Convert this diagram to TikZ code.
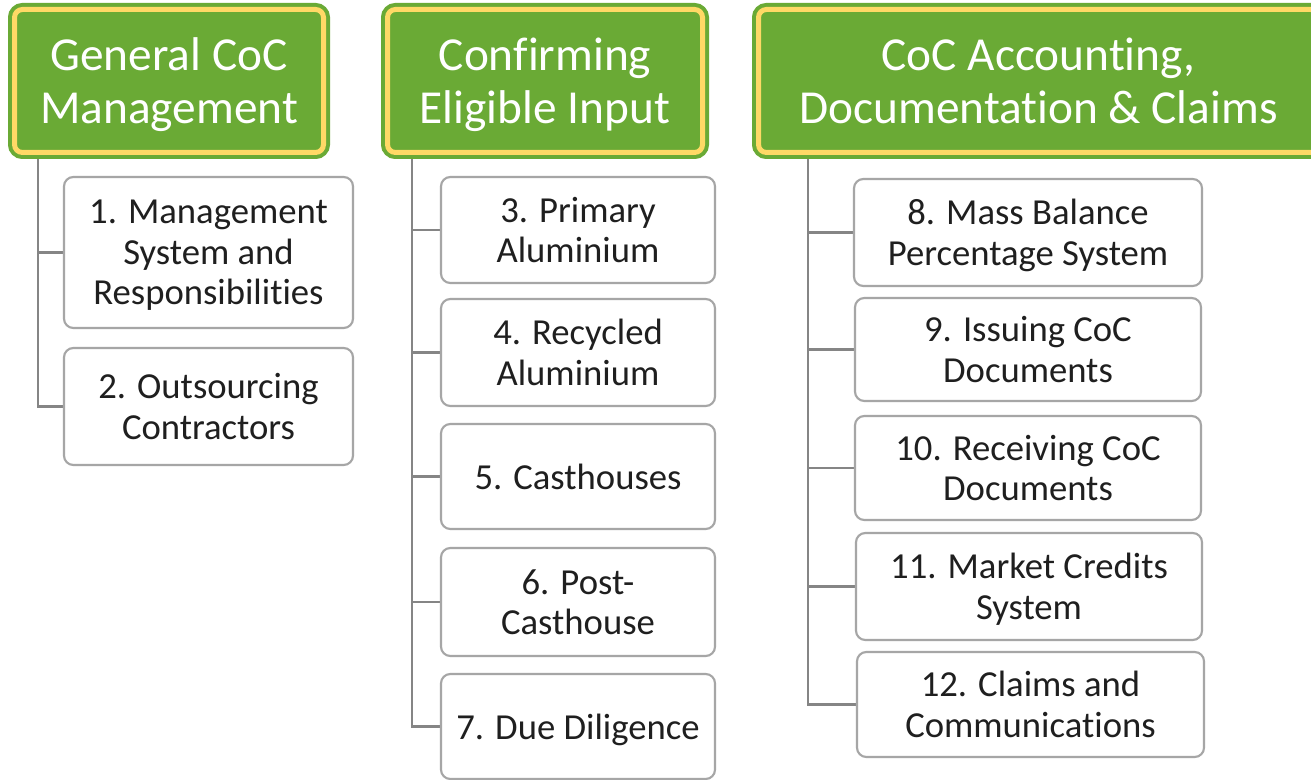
\documentclass[tikz,border=0pt]{standalone}
\usepackage{fontspec}
\setmainfont{Carlito}[Ligatures=NoCommon]
\usetikzlibrary{backgrounds}
\definecolor{hgreen}{HTML}{6AAA35}
\definecolor{hyellow}{HTML}{FFD966}
\definecolor{bgray}{HTML}{A6A6A6}
\definecolor{lgray}{HTML}{858585}
\begin{document}
\begin{tikzpicture}[x=0.75pt,y=-0.75pt,
  hdr/.style={rounded corners=6pt, fill=hgreen, draw=hyellow, line width=3.75pt,
    preaction={draw=hgreen, line width=9.75pt}, inner sep=0pt, text=white,
    minimum height=107.25pt, text depth=0pt,
    align=center, font=\fontsize{35.5}{39.75}\selectfont},
  item/.style={rounded corners=7pt, fill=white, draw=bgray, line width=1.6pt,
    text depth=0pt,
    inner sep=0pt, align=center, text=black!88, font=\fontsize{27.5}{30.5}\selectfont},
  conn/.style={draw=lgray, line width=1.9pt}]
\useasboundingbox (0,0) rectangle (1311,780);

% headers
\node[hdr, minimum width=231.75pt] (h1) at (169,81) {General CoC\\Management};
\node[hdr, minimum width=236.25pt] (h2) at (545,81) {Confirming\\Eligible Input};
\node[hdr, minimum width=420pt] (h3) at (1038.5,81) {CoC Accounting,\\Documentation \& Claims};

% column 1
\node[item, minimum width=216.75pt, minimum height=113.25pt] (b1) at (208.5,252.5) {1. Management\\System and\\Responsibilities};
\node[item, minimum width=216.75pt, minimum height=87.75pt] (b2) at (208.5,406.5) {2. Outsourcing\\Contractors};

% column 2
\node[item, minimum width=205.5pt, minimum height=79.5pt] (b3) at (578,230) {3. Primary\\Aluminium};
\node[item, minimum width=205.5pt, minimum height=80.25pt] (b4) at (578,352.5) {4. Recycled\\Aluminium};
\node[item, minimum width=205.5pt, minimum height=78.75pt] (b5) at (578,476.5) {5. Casthouses};
\node[item, minimum width=205.5pt, minimum height=81pt] (b6) at (578,602) {6. Post-\\Casthouse};
\node[item, minimum width=205.5pt, minimum height=78.75pt] (b7) at (578,726.5) {7. Due Diligence};

% column 3
\node[item, minimum width=261pt, minimum height=80.25pt] (b8) at (1028,232.5) {8. Mass Balance\\Percentage System};
\node[item, minimum width=259.5pt, minimum height=77.25pt] (b9) at (1028,349.5) {9. Issuing CoC\\Documents};
\node[item, minimum width=259.5pt, minimum height=78pt] (b10) at (1028,468) {10. Receiving CoC\\Documents};
\node[item, minimum width=259.5pt, minimum height=80.25pt] (b11) at (1029,586.5) {11. Market Credits\\System};
\node[item, minimum width=260.25pt, minimum height=78.75pt] (b12) at (1030.5,704.5) {12. Claims and\\Communications};

\coordinate (t1) at (38,150);
\coordinate (t2) at (412,150);
\coordinate (t3) at (808,150);

\begin{scope}[on background layer]
  \fill[white] (0,0) rectangle (1311,780);
  \draw[conn] (t1) |- (b1.west);
  \draw[conn] (t1) |- (b2.west);
  \draw[conn] (t2) |- (b3.west);
  \draw[conn] (t2) |- (b4.west);
  \draw[conn] (t2) |- (b5.west);
  \draw[conn] (t2) |- (b6.west);
  \draw[conn] (t2) |- (b7.west);
  \draw[conn] (t3) |- (b8.west);
  \draw[conn] (t3) |- (b9.west);
  \draw[conn] (t3) |- (b10.west);
  \draw[conn] (t3) |- (b11.west);
  \draw[conn] (t3) |- (b12.west);
\end{scope}
\end{tikzpicture}
\end{document}
